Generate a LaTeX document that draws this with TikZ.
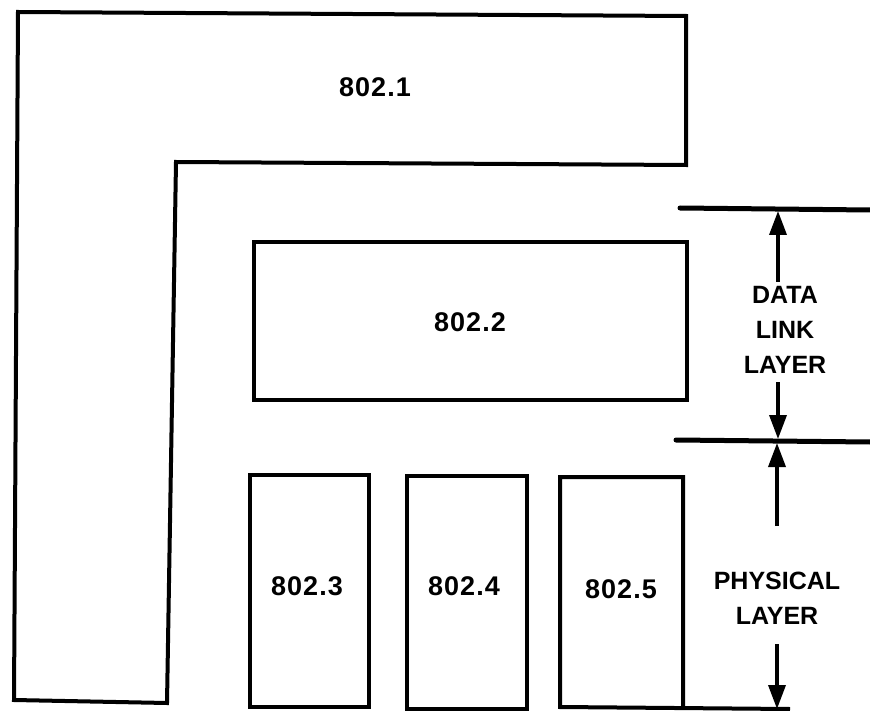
\documentclass[tikz,border=0pt]{standalone}
\usepackage{fontspec}
\setmainfont{Liberation Sans}
\newfontfamily\numfont[LetterSpace=4]{Liberation Sans}
\usetikzlibrary{arrows.meta}
\begin{document}
\begin{tikzpicture}[x=1pt,y=-1pt,
  box/.style={draw,line width=4pt,anchor=north west,inner sep=0pt},
  lbl/.style={font=\numfont\bfseries\fontsize{27}{30}\selectfont},
  side/.style={font=\bfseries\fontsize{25}{35}\selectfont,align=center},
  layerline/.style={line width=5pt},
  dim/.style={line width=3.5pt,-{Triangle[width=17pt,length=24pt]}}]
\useasboundingbox (0,0) rectangle (870,711);
% 802.1 L shape
\draw[line width=4pt,line join=miter] (18,12) -- (686,16) -- (686,165) -- (176,162) -- (167,703) -- (14,700) -- cycle;
\node[lbl] (l1) at (375,87) {802.1};
% boxes
\node[box,minimum width=433pt,minimum height=158pt] (b2) at (252,240) {};
\node[lbl] (l2) at (470,322) {802.2};
\node[box,minimum width=119pt,minimum height=232pt] (b3) at (248,473) {};
\node[lbl] (l3) at (307,586) {802.3};
\node[box,minimum width=120pt,minimum height=233pt] (b4) at (405,474) {};
\node[lbl] (l4) at (464,586) {802.4};
\draw[line width=4pt] (683,707) -- (683,477) -- (560,477) -- (560,707) -- (790,709);
\node[lbl] (l5) at (621,589) {802.5};
% layer lines
\coordinate (t1) at (680,208); \coordinate (t2) at (870,210);
\coordinate (m1) at (676,440); \coordinate (m2) at (870,442);
\draw[layerline,line cap=round] (t1) -- (t2);
\draw[layerline,line cap=round] (m1) -- (m2);
% labels
\node[side] (dl) at (785,330) {DATA\\LINK\\LAYER};
\node[side] (ph) at (777,598) {PHYSICAL\\LAYER};
% arrows
\coordinate (a1s) at (778,282); \coordinate (a1e) at (778,211);
\coordinate (a2s) at (778,382); \coordinate (a2e) at (778,439);
\coordinate (a3s) at (777,526); \coordinate (a3e) at (777,443);
\coordinate (a4s) at (777,644); \coordinate (a4e) at (777,709);
\draw[dim] (a1s) -- (a1e);
\draw[dim] (a2s) -- (a2e);
\draw[dim] (a3s) -- (a3e);
\draw[dim] (a4s) -- (a4e);
\end{tikzpicture}
\end{document}
